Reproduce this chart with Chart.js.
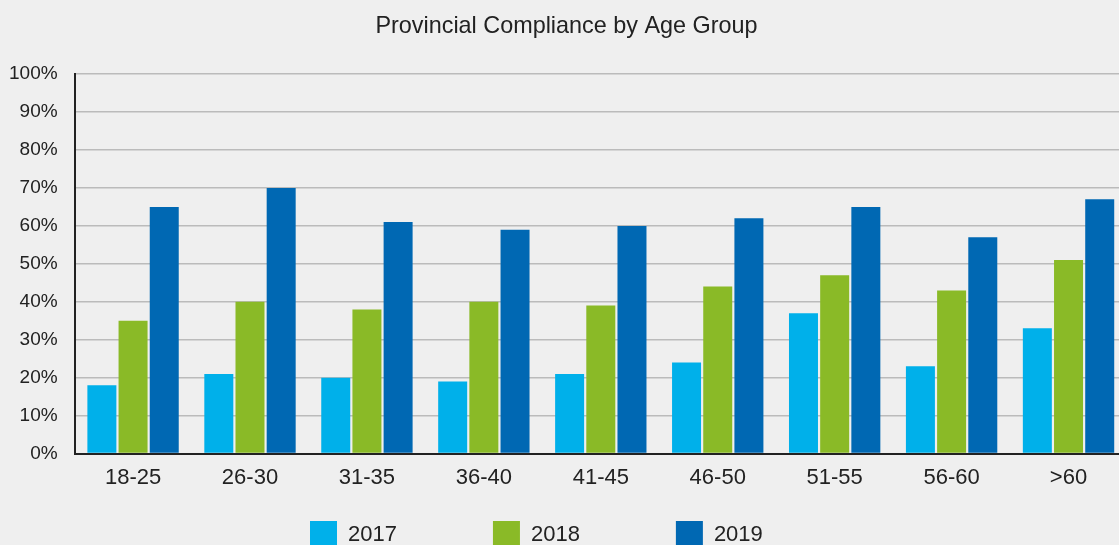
<!DOCTYPE html>
<html><head><meta charset="utf-8">
<script src="https://cdn.jsdelivr.net/npm/chart.js@4"></script>
<style>
html,body{margin:0;padding:0;background:#efefef;overflow:hidden;}
#wrap{position:absolute;left:0;top:0;width:1127px;height:558px;}
</style></head>
<body>
<div id="wrap"><canvas id="c"></canvas></div>
<script>
const categories = ['18-25','26-30','31-35','36-40','41-45','46-50','51-55','56-60','>60'];
const values2017 = [18,21,20,19,21,24,37,23,33];
const values2018 = [35,40,38,40,39,44,47,43,51];
const values2019 = [65,70,61,59,60,62,65,57,67];
const seriesNames = ['2017','2018','2019'];
const colors = ['#00b0ea','#8aba27','#0068b3'];

const FONT = 'Liberation Sans, Arial, sans-serif';
const LEGEND_PAD = 96;

const bg = {id:'bg',beforeDraw(ch){const c=ch.ctx;c.save();c.fillStyle='#efefef';c.fillRect(0,0,ch.width,ch.height);c.restore();}};
const legendPlace = {id:'legendPlace',afterLayout(ch){
  const lg = ch.legend;
  if(lg){ lg.top = 521 - LEGEND_PAD; lg.bottom = ch.height + 2; lg.left = 310 - LEGEND_PAD; }
  const tb = ch.titleBlock;
  if(tb){ tb.left += 14; }
}};

new Chart(document.getElementById('c'),{
  type:'bar',
  data:{labels:categories,datasets:[values2017,values2018,values2019].map((v,i)=>({label:seriesNames[i],data:v,backgroundColor:colors[i],borderWidth:0,categoryPercentage:0.8,barPercentage:0.93}))},
  options:{
    responsive:true,maintainAspectRatio:false,animation:false,
    layout:{padding:{left:-8,right:0,top:0,bottom:0}},
    plugins:{
      title:{display:true,text:'Provincial Compliance by Age Group',color:'#222',font:{family:FONT,size:23.4,weight:'normal'},padding:{top:13,bottom:33}},
      legend:{position:'bottom',align:'start',maxHeight:56,labels:{color:'#222',font:{family:FONT,size:22},boxWidth:27,boxHeight:27,padding:LEGEND_PAD}},
      tooltip:{enabled:false}
    },
    scales:{
      x:{grid:{display:false,drawTicks:false},border:{color:'#222',width:2},ticks:{color:'#222',font:{family:FONT,size:22},padding:11}},
      y:{min:0,max:100,grid:{color:'#bbbbbb',lineWidth:1.5,drawTicks:false},border:{color:'#222',width:2},
        ticks:{stepSize:10,color:'#222',padding:17,font:{family:FONT,size:19},callback:v=>v+'%'}}
    }
  },
  plugins:[bg,legendPlace]
});
</script>
</body></html>
